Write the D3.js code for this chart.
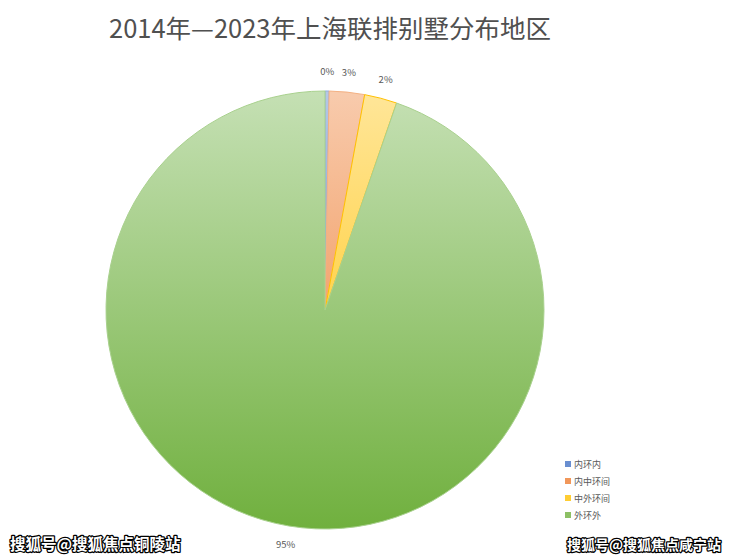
<!DOCTYPE html>
<html><head><meta charset="utf-8">
<script src="https://cdn.jsdelivr.net/npm/d3@7"></script>
<style>body{margin:0;background:#fff}</style>
</head><body>
<svg id="c" width="740" height="560"></svg>
<script>
const categories = ["内环内", "内中环间", "中外环间", "外环外"];
const values = [0.3, 2.6, 2.4, 94.7];
const labels = ["0%", "3%", "2%", "95%"];
const title = "2014年—2023年上海联排别墅分布地区";
const colorsLight = ["#b4c7e7", "#f8cbad", "#ffe699", "#c5e0b4"];
const colorsDark = ["#4472c4", "#ed7d31", "#ffc000", "#70b03e"];
const strokes = ["#8faadc", "#f4b183", "#ffc000", "#a9d18e"];

const svg = d3.select("#c");
const font = "'Noto Sans CJK SC','Microsoft YaHei',sans-serif";
const cx = 325, cy = 310, r = 219;

svg.append("text").attr("x", 330).attr("y", 38).attr("text-anchor", "middle")
  .attr("font-family", font).attr("font-size", 25.5).attr("fill", "#505050").text(title);

const defs = svg.append("defs");
categories.forEach((c, i) => {
  const g = defs.append("linearGradient").attr("id", "g" + i)
    .attr("gradientUnits", "userSpaceOnUse")
    .attr("x1", 0).attr("y1", -r).attr("x2", 0).attr("y2", r);
  g.append("stop").attr("offset", "0%").attr("stop-color", colorsLight[i]);
  g.append("stop").attr("offset", "100%").attr("stop-color", colorsDark[i]);
});

const pie = d3.pie().sort(null).value(d => d)(values);
const arc = d3.arc().innerRadius(0).outerRadius(r);
const gp = svg.append("g").attr("transform", `translate(${cx},${cy})`);
gp.selectAll("path").data(pie).join("path")
  .attr("d", arc)
  .attr("fill", (d, i) => `url(#g${i})`)
  .attr("stroke", (d, i) => strokes[i]).attr("stroke-width", 1);

const lab = d3.arc().innerRadius(r + 19).outerRadius(r + 19);
svg.selectAll("text.lbl").data(pie).join("text").attr("class", "lbl")
  .attr("x", d => cx + lab.centroid(d)[0])
  .attr("y", d => cy + lab.centroid(d)[1] + 3)
  .attr("text-anchor", "middle").attr("font-family", font).attr("font-size", 9.5)
  .attr("fill", "#595959").text((d, i) => labels[i]);

const leg = svg.append("g").attr("transform", "translate(565,466)");
categories.forEach((c, i) => {
  const row = leg.append("g").attr("transform", `translate(0,${i * 17})`);
  row.append("rect").attr("x", 0).attr("y", -5).attr("width", 6).attr("height", 6)
    .attr("fill", colorsDark[i]).attr("opacity", 0.8);
  row.append("text").attr("x", 9).attr("y", 1.5).attr("font-family", font)
    .attr("font-size", 9).attr("fill", "#595959").text(c);
});

const wm = [["搜狐号@搜狐焦点铜陵站", 10, 550, 15.5], ["搜狐号@搜狐焦点咸宁站", 567, 550, 14]];
wm.forEach(([t, x, y, s]) => {
  svg.append("text").attr("x", x).attr("y", y).attr("font-family", font)
    .attr("font-size", s).attr("font-weight", "bold").attr("fill", "#fff")
    .attr("stroke", "#000").attr("stroke-width", 2.5).attr("paint-order", "stroke")
    .attr("stroke-linejoin", "round").text(t);
});
</script>
</body></html>
